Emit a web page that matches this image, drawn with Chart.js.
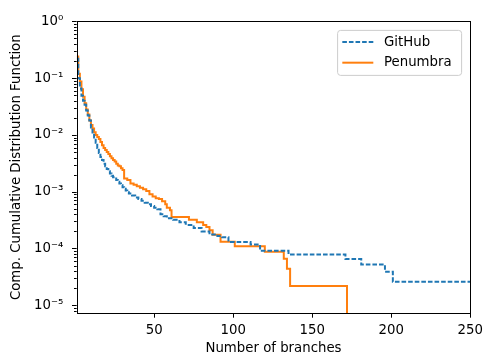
<!DOCTYPE html>
<html>
<head>
<meta charset="utf-8">
<script src="https://cdn.jsdelivr.net/npm/chart.js@4/dist/chart.umd.min.js"></script>
<style>
  html, body { margin: 0; padding: 0; background: #fff; }
  #wrap { width: 493px; height: 360px; position: relative; }
</style>
</head>
<body>
<div id="wrap"><canvas id="c" width="493" height="360"></canvas></div>
<script>
// Complementary CDF of the number of branches per function.
// Each value holds from its x until the next x (step-after-point).
const githubBranches = [1,2,3,4,5,6,7,8,9,10,11,12,13,14,15,16,17,18,19,20,21,22,23,24,25,26,27,28,29,30,31,32,33,34,36,38,40,42,44,46,48,50,52,54,56,58,62,66,70,75,80,85,90,93,97,111,117,135,171,181,196,201,250];
const githubCcdf = [0.22,0.10,0.066,0.049,0.040,0.034,0.027,0.022,0.018,0.0135,0.011,0.0090,0.0073,0.0059,0.0048,0.0041,0.0036,0.0031,0.0028,0.0025,0.0023,0.0021,0.0019,0.0018,0.0017,0.0016,0.0015,0.0014,0.0013,0.0012,0.00113,0.00105,0.00098,0.00093,0.00086,0.00079,0.00074,0.00069,0.00064,0.00060,0.00056,0.00052,0.00049,0.00040,0.00037,0.00034,0.00032,0.00029,0.00026,0.00023,0.00020,0.000177,0.000165,0.000158,0.000130,0.000118,0.000091,0.000078,0.000065,0.000052,0.000039,0.000026,0.000026];

const penumbraBranches = [1,2,3,4,5,6,7,8,9,10,11,12,13,14,15,16,17,18,19,20,21,22,23,24,25,26,27,28,29,30,31,33,35,37,39,41,43,45,47,49,51,53,55,57,58,60,61,72,77,81,83,85,87,92,101,120,132,134,136,172];
const penumbraCcdf = [0.24,0.12,0.087,0.064,0.047,0.036,0.028,0.023,0.018,0.015,0.013,0.0112,0.0100,0.0092,0.0085,0.0075,0.0066,0.0059,0.0054,0.0050,0.0046,0.0042,0.0039,0.0036,0.0034,0.0031,0.0029,0.0028,0.0026,0.0024,0.0017,0.0016,0.0014,0.00133,0.00125,0.00117,0.00110,0.00103,0.00090,0.00082,0.00077,0.00074,0.00068,0.00060,0.00052,0.00047,0.00036,0.00032,0.00029,0.00026,0.00024,0.00021,0.000175,0.000131,0.000109,0.0000875,0.0000656,0.0000438,0.0000219,0];

const seriesNames = ['GitHub', 'Penumbra'];
const xTickValues = [50, 100, 150, 200, 250];
const xRange = [1, 250];
const yRange = [7.3e-6, 1];

const FONT = 'DejaVu Sans';
const SUP = {'0':'\u2070','1':'\u00B9','2':'\u00B2','3':'\u00B3','4':'\u2074','5':'\u2075','6':'\u2076','7':'\u2077','8':'\u2078','9':'\u2079','-':'\u207B'};
const powerLabel = v => '10' + String(Math.round(Math.log10(v))).split('').map(c => SUP[c]).join('');
const isDecade = v => Math.abs(Math.log10(v) - Math.round(Math.log10(v))) < 1e-9;

// A log axis cannot show zero: a zero CCDF value is drawn down at the axis floor.
const toPoints = (xs, ys) => xs.map((x, i) => ({x, y: ys[i] > 0 ? ys[i] : yRange[0]}));

// Frame, tick marks (major + minor) and the in-axes legend
const axesDecor = {
  id: 'axesDecor',
  afterDraw(chart) {
    const {ctx, chartArea: a, scales: {x, y}} = chart;
    ctx.save();
    ctx.strokeStyle = '#000';
    ctx.lineWidth = 1;
    // y ticks: decades and 2..9 minors
    const lo = Math.floor(Math.log10(y.min)), hi = Math.ceil(Math.log10(y.max));
    for (let e = lo; e <= hi; e++) {
      for (let m = 1; m <= 9; m++) {
        const v = m * Math.pow(10, e);
        if (v < y.min * 0.999 || v > y.max * 1.001) continue;
        const py = Math.round(y.getPixelForValue(v)) + 0.5;
        const len = m === 1 ? 4.7 : 2.7;
        ctx.beginPath();
        ctx.moveTo(a.left - len, py);
        ctx.lineTo(a.left, py);
        ctx.stroke();
      }
    }
    // x ticks
    xTickValues.forEach(v => {
      const px = Math.round(x.getPixelForValue(v)) + 0.5;
      ctx.beginPath();
      ctx.moveTo(px, a.bottom);
      ctx.lineTo(px, a.bottom + 4.7);
      ctx.stroke();
    });
    // spines
    ctx.strokeRect(Math.round(a.left) + 0.5, Math.round(a.top) + 0.5,
                   Math.round(a.right) - Math.round(a.left), Math.round(a.bottom) - Math.round(a.top));

    // legend
    const bw = 124, bh = 45;
    const bx = a.right - 8.7 - bw, by = a.top + 9;
    const r = 3;
    ctx.beginPath();
    ctx.moveTo(bx + r, by);
    ctx.arcTo(bx + bw, by, bx + bw, by + bh, r);
    ctx.arcTo(bx + bw, by + bh, bx, by + bh, r);
    ctx.arcTo(bx, by + bh, bx, by, r);
    ctx.arcTo(bx, by, bx + bw, by, r);
    ctx.closePath();
    ctx.fillStyle = 'rgba(255,255,255,0.8)';
    ctx.fill();
    ctx.strokeStyle = '#cccccc';
    ctx.lineWidth = 1;
    ctx.stroke();
    chart.data.datasets.forEach((ds, i) => {
      const cy = by + 11.7 + i * 20.6;
      ctx.save();
      ctx.strokeStyle = ds.borderColor;
      ctx.lineWidth = ds.borderWidth;
      ctx.setLineDash(ds.borderDash || []);
      ctx.beginPath();
      ctx.moveTo(bx + 4.7, cy);
      ctx.lineTo(bx + 35.7, cy);
      ctx.stroke();
      ctx.restore();
      ctx.fillStyle = '#000';
      ctx.font = '13.3px "' + FONT + '"';
      ctx.textBaseline = 'middle';
      ctx.textAlign = 'left';
      ctx.fillText(ds.label, bx + 46.4, cy);
    });
    ctx.restore();
  }
};

new Chart(document.getElementById('c'), {
  type: 'line',
  data: {
    datasets: [
      {
        label: seriesNames[0],
        data: toPoints(githubBranches, githubCcdf),
        borderColor: '#1f77b4',
        borderWidth: 2,
        borderDash: [4.6, 2],
        stepped: 'before',
        pointRadius: 0,
        fill: false
      },
      {
        label: seriesNames[1],
        data: toPoints(penumbraBranches, penumbraCcdf),
        borderColor: '#ff7f0e',
        borderWidth: 2,
        stepped: 'before',
        pointRadius: 0,
        fill: false
      }
    ]
  },
  options: {
    responsive: false,
    devicePixelRatio: 1,
    animation: false,
    layout: { padding: { top: 11, right: 11, left: 0, bottom: 0 } },
    plugins: { legend: { display: false }, tooltip: { enabled: false } },
    scales: {
      x: {
        type: 'linear',
        min: xRange[0],
        max: xRange[1],
        afterBuildTicks: s => { s.ticks = xTickValues.map(v => ({value: v})); },
        afterFit: s => { s.height = 47; },
        grid: { display: false, drawTicks: false },
        border: { display: false },
        ticks: { color: '#000', font: { family: FONT, size: 13.3 }, padding: 10, maxRotation: 0, autoSkip: false },
        title: { display: true, text: 'Number of branches', color: '#000', font: { family: FONT, size: 13.3 }, padding: { top: 0, bottom: 3 } }
      },
      y: {
        type: 'logarithmic',
        min: yRange[0],
        max: yRange[1],
        afterBuildTicks: s => {
          const t = [];
          for (let e = -5; e <= 0; e++) t.push({value: Math.pow(10, e)});
          s.ticks = t;
        },
        afterFit: s => { s.width = 76.7; },
        grid: { display: false, drawTicks: false },
        border: { display: false },
        ticks: {
          color: '#000',
          font: { family: FONT, size: 13.3 },
          padding: 13.4,
          autoSkip: false,
          callback: v => isDecade(v) ? powerLabel(v) : ''
        },
        title: { display: true, text: 'Comp. Cumulative Distribution Function', color: '#000', font: { family: FONT, size: 13.3 }, padding: { top: 9, bottom: 0 } }
      }
    }
  },
  plugins: [axesDecor]
});
</script>
</body>
</html>
